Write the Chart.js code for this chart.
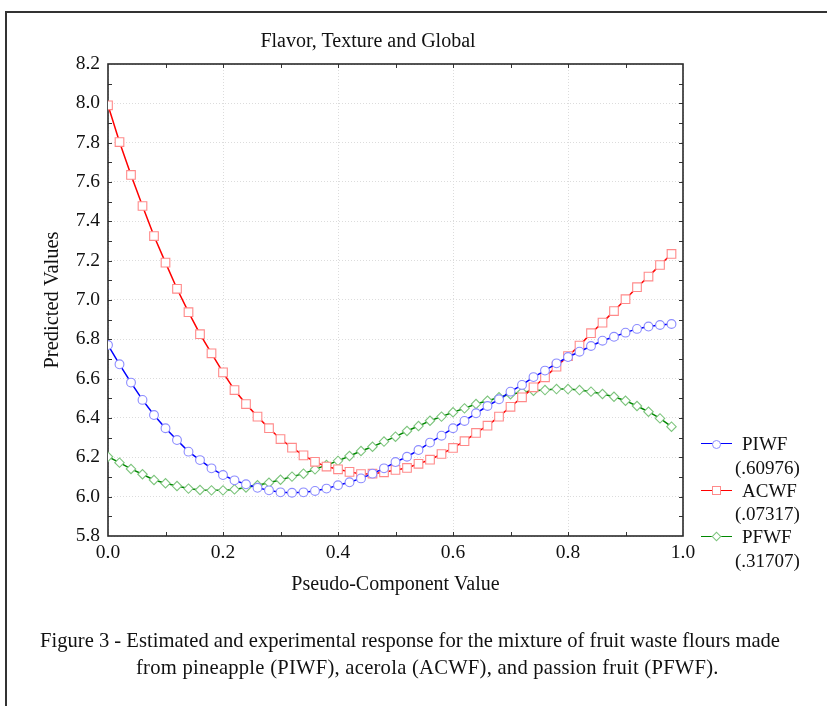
<!DOCTYPE html>
<html>
<head>
<meta charset="utf-8">
<script src="https://cdn.jsdelivr.net/npm/chart.js@4.4.1/dist/chart.umd.min.js"></script>
<style>
  html, body { margin: 0; padding: 0; background: #fff; }
  #wrap { position: relative; width: 827px; height: 706px; overflow: hidden; font-family: "Liberation Serif", "Times New Roman", serif; color: #111; }
  #frame { position: absolute; left: 5px; top: 11px; width: 900px; height: 800px; border-top: 2px solid #333; border-left: 2px solid #333; }
  canvas { position: absolute; left: 0; top: 0; }
  .txt { position: absolute; white-space: nowrap; font-size: 19px; line-height: 22px; }
  .lg-line { position: absolute; height: 0; width: 31px; border-top: 1.5px solid; }
  .mk { position: absolute; background: #fff; box-sizing: border-box; border: 1px solid; }
</style>
</head>
<body>
<div id="wrap">
  <div id="frame"></div>
  <canvas id="c" width="827" height="706"></canvas>
  <div class="txt" style="left:0; width:736px; text-align:center; top:29px; font-size:20px;">Flavor, Texture and Global</div>

  <div class="lg-line" style="left:701px; top:443px; border-color:#0000ff;"></div>
  <div class="mk" style="left:712px; top:440px; width:9px; height:9px; border-radius:50%; border-color:#8c8cff;"></div>
  <div class="txt" style="left:742px; top:433px;">PIWF</div>
  <div class="txt" style="left:735px; top:457px;">(.60976)</div>

  <div class="lg-line" style="left:701px; top:490px; border-color:#ff0000;"></div>
  <div class="mk" style="left:712px; top:486px; width:9px; height:9px; border-color:#ff8a8a;"></div>
  <div class="txt" style="left:742px; top:480px;">ACWF</div>
  <div class="txt" style="left:735px; top:503px;">(.07317)</div>

  <div class="lg-line" style="left:701px; top:536px; border-color:#008800;"></div>
  <div class="mk" style="left:713px; top:533px; width:7px; height:7px; transform:rotate(45deg); border-color:#7cc47c;"></div>
  <div class="txt" style="left:742px; top:526px;">PFWF</div>
  <div class="txt" style="left:735px; top:550px;">(.31707)</div>

  <div class="txt" style="left:40px; top:629px; font-size:20.6px;">Figure 3 - Estimated and experimental response for the mixture of fruit waste flours made</div>
  <div class="txt" style="left:136px; top:656px; font-size:20.6px; letter-spacing:0.25px;">from pineapple (PIWF), acerola (ACWF), and passion fruit (PFWF).</div>
</div>
<script>
// Pseudo-component values (x)
const xValues = [0.00,0.02,0.04,0.06,0.08,0.10,0.12,0.14,0.16,0.18,
                 0.20,0.22,0.24,0.26,0.28,0.30,0.32,0.34,0.36,0.38,
                 0.40,0.42,0.44,0.46,0.48,0.50,0.52,0.54,0.56,0.58,
                 0.60,0.62,0.64,0.66,0.68,0.70,0.72,0.74,0.76,0.78,
                 0.80,0.82,0.84,0.86,0.88,0.90,0.92,0.94,0.96,0.98];

const piwf = [6.771,6.673,6.580,6.492,6.415,6.348,6.288,6.229,6.186,6.144,
              6.110,6.083,6.063,6.045,6.032,6.022,6.020,6.022,6.029,6.041,
              6.058,6.073,6.093,6.117,6.144,6.176,6.203,6.237,6.275,6.310,
              6.348,6.385,6.424,6.461,6.495,6.534,6.568,6.608,6.641,6.678,
              6.710,6.737,6.766,6.793,6.813,6.834,6.853,6.865,6.873,6.878];

const acwf = [7.990,7.803,7.636,7.478,7.325,7.190,7.057,6.938,6.826,6.729,
              6.632,6.542,6.471,6.407,6.348,6.293,6.249,6.210,6.177,6.153,
              6.139,6.126,6.115,6.117,6.124,6.136,6.146,6.167,6.188,6.217,
              6.248,6.282,6.324,6.361,6.407,6.457,6.505,6.556,6.607,6.661,
              6.715,6.768,6.831,6.885,6.944,7.004,7.065,7.119,7.178,7.234];

const pfwf = [6.203,6.173,6.141,6.114,6.085,6.068,6.054,6.041,6.034,6.032,
              6.032,6.037,6.047,6.058,6.071,6.086,6.102,6.117,6.139,6.161,
              6.182,6.207,6.232,6.254,6.280,6.305,6.334,6.359,6.386,6.407,
              6.429,6.449,6.471,6.488,6.505,6.521,6.531,6.539,6.542,6.547,
              6.547,6.542,6.534,6.522,6.508,6.488,6.461,6.432,6.398,6.356];

const seriesNames = ['PIWF', 'ACWF', 'PFWF'];
const yTitle = 'Predicted Values';
const xTitle = 'Pseudo-Component Value';

const FONT = '"Liberation Serif", "Times New Roman", serif';

function pts(arr) { return xValues.map((x, i) => ({ x: x, y: arr[i] })); }

const frameTicks = {
  id: 'frameTicks',
  beforeDatasetsDraw(chart) {
    const { ctx, chartArea: a, scales } = chart;
    const xs = scales.x, ys = scales.y;
    ctx.save();
    ctx.strokeStyle = '#333';
    ctx.lineWidth = 1;
    ctx.beginPath();
    for (let k = 1; k < 10; k++) {
      const px = Math.round(xs.getPixelForValue(k / 10)) + 0.5;
      ctx.moveTo(px, a.bottom); ctx.lineTo(px, a.bottom - 4);
      ctx.moveTo(px, a.top); ctx.lineTo(px, a.top + 4);
    }
    for (let k = 59; k < 82; k++) {
      const py = Math.round(ys.getPixelForValue(k / 10)) + 0.5;
      ctx.moveTo(a.left, py); ctx.lineTo(a.left + 4, py);
      ctx.moveTo(a.right, py); ctx.lineTo(a.right - 4, py);
    }
    ctx.stroke();
    ctx.lineWidth = 1.6;
    ctx.strokeStyle = '#2a2a2a';
    ctx.strokeRect(a.left, a.top, a.right - a.left, a.bottom - a.top);
    ctx.restore();
  }
};

new Chart(document.getElementById('c'), {
  type: 'scatter',
  data: {
    datasets: [
      { label: seriesNames[0], data: pts(piwf), showLine: true, borderColor: '#0000ff', borderWidth: 1.5,
        pointStyle: 'circle', pointRadius: 4.4, pointBorderColor: '#8c8cff', pointBackgroundColor: '#ffffff', pointBorderWidth: 1.1 },
      { label: seriesNames[1], data: pts(acwf), showLine: true, borderColor: '#ff0000', borderWidth: 1.5,
        pointStyle: 'rect', pointRadius: 6.1, pointBorderColor: '#ff8a8a', pointBackgroundColor: '#ffffff', pointBorderWidth: 1.1 },
      { label: seriesNames[2], data: pts(pfwf), showLine: true, borderColor: '#008800', borderWidth: 1.5,
        pointStyle: 'rectRot', pointRadius: 4.7, pointBorderColor: '#7cc47c', pointBackgroundColor: '#ffffff', pointBorderWidth: 1.1 }
    ]
  },
  options: {
    responsive: false,
    animation: false,
    layout: { padding: { left: 38, top: 64, right: 144, bottom: 108 } },
    plugins: { legend: { display: false }, tooltip: { enabled: false }, title: { display: false } },
    scales: {
      x: {
        type: 'linear', min: 0, max: 1,
        afterFit(s) { s.height = 62; },
        ticks: { stepSize: 0.2, padding: 5, color: '#111', font: { family: FONT, size: 19.5 },
                 callback: v => Number(v).toFixed(1) },
        grid: { color: '#dcdcdc', lineWidth: 1, drawTicks: false },
        border: { display: false, dash: [1, 2] },
        title: { display: true, text: xTitle, color: '#111', font: { family: FONT, size: 20 }, padding: { top: 0, bottom: 1 } }
      },
      y: {
        type: 'linear', min: 5.8, max: 8.2,
        afterFit(s) { s.width = 70; },
        ticks: { stepSize: 0.2, padding: 8, color: '#111', font: { family: FONT, size: 19.5 },
                 callback: v => Number(v).toFixed(1) },
        grid: { color: '#dcdcdc', lineWidth: 1, drawTicks: false },
        border: { display: false, dash: [1, 2] },
        title: { display: true, text: yTitle, color: '#111', font: { family: FONT, size: 20.5 }, padding: { top: 2, bottom: 0 } }
      }
    }
  },
  plugins: [frameTicks]
});
</script>
</body>
</html>
